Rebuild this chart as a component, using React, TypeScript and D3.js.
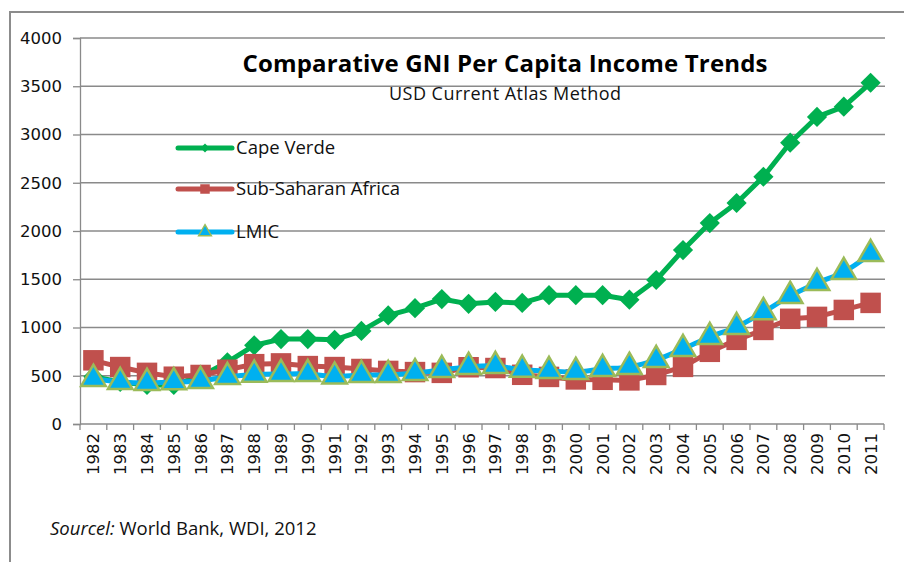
import * as d3 from 'd3'
import { useEffect, useRef } from 'react'

const years = d3.range(1982, 2012).map(String)

const capeVerde = [490, 435, 405, 405, 495, 640, 815, 880, 880, 872, 965, 1125, 1200, 1295, 1245, 1265, 1255, 1335, 1335, 1335, 1288, 1492, 1802, 2082, 2290, 2562, 2915, 3182, 3288, 3536]
const subSaharan = [660, 590, 530, 490, 508, 562, 620, 628, 600, 590, 570, 550, 538, 530, 588, 580, 510, 488, 462, 458, 452, 508, 592, 748, 872, 975, 1090, 1110, 1182, 1255]
const lmic = [468, 436, 426, 434, 446, 488, 512, 518, 518, 492, 508, 508, 528, 560, 592, 602, 562, 550, 540, 570, 592, 664, 778, 902, 1006, 1160, 1328, 1462, 1576, 1762]

const yTicks = d3.range(0, 4001, 500)

const seriesNames = ['Cape Verde', 'Sub-Saharan Africa', 'LMIC']

const W = 904
const H = 562
const plot = { left: 80, right: 884, top: 38, bottom: 424 }

export default function App() {
    const svgRef = useRef(null) as any

    useEffect(() => {
        const svg = d3.select(svgRef.current)
        svg.selectAll('*').remove()

        const x = d3.scaleBand().domain(years).range([plot.left, plot.right])
        const y = d3.scaleLinear().domain([0, 4000]).range([plot.bottom, plot.top])
        const cx = (i: number) => (x(years[i]) as number) + x.bandwidth() / 2

        svg.append('rect').attr('width', W).attr('height', H).attr('fill', '#fff')

        // frame
        svg.append('path')
            .attr('d', `M10,${H} L10,12 L${W},12`)
            .attr('fill', 'none')
            .attr('stroke', '#8c8c8c')
            .attr('stroke-width', 2)

        // grid
        svg.append('g').selectAll('line')
            .data(yTicks.slice(1))
            .join('line')
            .attr('x1', plot.left).attr('x2', plot.right + 1)
            .attr('y1', d => y(d)).attr('y2', d => y(d))
            .attr('stroke', '#8a8a8a').attr('stroke-width', 1.3)

        // y axis
        const yAxis = d3.axisLeft(y).tickValues(yTicks).tickFormat(d3.format('d')).tickSize(7).tickPadding(11)
        const gy = svg.append('g').attr('transform', `translate(${plot.left},0)`).call(yAxis)
        gy.select('.domain').attr('stroke', '#8a8a8a').attr('stroke-width', 1.3)
        gy.selectAll('.tick line').attr('stroke', '#8a8a8a').attr('stroke-width', 1.3)
        gy.selectAll('text')
            .attr('fill', '#111')
            .style('font-family', 'DejaVu Sans')
            .style('font-size', '16.5px')

        // x axis
        const gx = svg.append('g')
        gx.append('line')
            .attr('x1', plot.left).attr('x2', plot.right)
            .attr('y1', plot.bottom).attr('y2', plot.bottom)
            .attr('stroke', '#8a8a8a').attr('stroke-width', 1.3)
        gx.selectAll('.xt')
            .data(d3.range(years.length + 1))
            .join('line')
            .attr('x1', i => plot.left + i * x.step()).attr('x2', i => plot.left + i * x.step())
            .attr('y1', plot.bottom).attr('y2', plot.bottom + 6)
            .attr('stroke', '#8a8a8a').attr('stroke-width', 1.3)
        gx.selectAll('text')
            .data(years)
            .join('text')
            .attr('transform', (d, i) => `translate(${cx(i) + 6},${plot.bottom + 9}) rotate(-90)`)
            .attr('text-anchor', 'end')
            .attr('fill', '#111')
            .style('font-family', 'DejaVu Sans')
            .style('font-size', '16.5px')
            .text(d => d)

        const symDiamond = d3.symbol().type(d3.symbolDiamond2)
        const symSquare = d3.symbol().type(d3.symbolSquare)
        const symTriangle = d3.symbol().type(d3.symbolTriangle)

        // Cape Verde
        const straight = d3.line<number>().x((d, i) => cx(i)).y(d => y(d))
        svg.append('path')
            .attr('d', straight(capeVerde))
            .attr('fill', 'none').attr('stroke', '#00b050').attr('stroke-width', 5)
            .attr('stroke-linejoin', 'round')
        svg.append('g').selectAll('path')
            .data(capeVerde)
            .join('path')
            .attr('d', symDiamond.size(260)())
            .attr('transform', (d, i) => `translate(${cx(i)},${y(d)})`)
            .attr('fill', '#00b050')

        // Sub-Saharan Africa
        svg.append('path')
            .attr('d', straight(subSaharan))
            .attr('fill', 'none').attr('stroke', '#c0504d').attr('stroke-width', 5)
            .attr('stroke-linejoin', 'round')
        svg.append('g').selectAll('path')
            .data(subSaharan)
            .join('path')
            .attr('d', symSquare.size(420)())
            .attr('transform', (d, i) => `translate(${cx(i)},${y(d)})`)
            .attr('fill', '#c0504d')

        // LMIC (smoothed)
        const smooth = d3.line<number>().x((d, i) => cx(i)).y(d => y(d)).curve(d3.curveCatmullRom)
        svg.append('path')
            .attr('d', smooth(lmic))
            .attr('fill', 'none').attr('stroke', '#00b0f0').attr('stroke-width', 5)
        svg.append('g').selectAll('path')
            .data(lmic)
            .join('path')
            .attr('d', symTriangle.size(260)())
            .attr('transform', (d, i) => `translate(${cx(i)},${y(d)})`)
            .attr('fill', '#00b0f0')
            .attr('stroke', '#9bbb59').attr('stroke-width', 2.5)

        // legend
        const legendY = [148, 189, 232]
        const colors = ['#00b050', '#c0504d', '#00b0f0']
        const lg = svg.append('g')
        seriesNames.forEach((name, i) => {
            lg.append('line')
                .attr('x1', 178).attr('x2', 232)
                .attr('y1', legendY[i]).attr('y2', legendY[i])
                .attr('stroke', colors[i]).attr('stroke-width', 5)
                .attr('stroke-linecap', 'round')
            const sym = i === 0 ? symDiamond.size(50)() : i === 1 ? symSquare.size(90)() : symTriangle.size(70)()
            lg.append('path')
                .attr('d', sym)
                .attr('transform', `translate(205,${legendY[i]})`)
                .attr('fill', colors[i])
                .attr('stroke', i === 2 ? '#9bbb59' : 'none')
                .attr('stroke-width', 1.5)
            lg.append('text')
                .attr('x', 236).attr('y', legendY[i] + 6)
                .attr('fill', '#111')
                .style('font-family', 'Open Sans')
                .style('font-size', '18.5px')
                .text(name)
        })

        // titles
        svg.append('text')
            .attr('x', 505).attr('y', 72)
            .attr('text-anchor', 'middle')
            .attr('fill', '#000')
            .style('font-family', 'Open Sans')
            .style('font-weight', 'bold')
            .style('font-size', '24px')
            .attr('textLength', 525)
            .text('Comparative GNI Per Capita Income Trends')
        svg.append('text')
            .attr('x', 505).attr('y', 100)
            .attr('text-anchor', 'middle')
            .attr('fill', '#111')
            .style('font-family', 'Open Sans')
            .style('font-size', '18px')
            .attr('textLength', 232)
            .text('USD Current Atlas Method')

        // source
        const src = svg.append('text')
            .attr('x', 50).attr('y', 535)
            .attr('fill', '#111')
            .style('font-family', 'Open Sans')
            .style('font-size', '18.5px')
        src.append('tspan').style('font-style', 'italic').text('Sourcel:')
        src.append('tspan').text(' World Bank, WDI, 2012')
    }, [])

    return (
        <div style={{ position: 'absolute', left: 0, top: 0 }}>
            <svg ref={svgRef} width={W} height={H} style={{ display: 'block' }} />
        </div>
    )
}
